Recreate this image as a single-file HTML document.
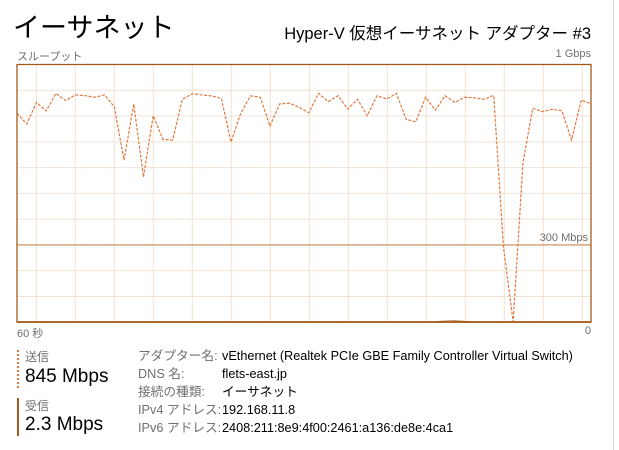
<!DOCTYPE html>
<html><head><meta charset="utf-8">
<style>
body{margin:0;width:619px;height:450px;background:#fff;overflow:hidden;position:relative;font-family:"Liberation Sans","Noto Sans CJK JP",sans-serif;}
.a{position:absolute;white-space:nowrap;}
.g{color:#707070;}
</style></head><body>
<div class="a" style="left:13px;top:6px;font-size:27px;color:#000;">イーサネット</div>
<div class="a" style="right:28px;top:20px;font-size:16.5px;color:#000;">Hyper-V 仮想イーサネット アダプター #3</div>
<div class="a g" style="left:17px;top:48px;font-size:11px;">スループット</div>
<div class="a g" style="right:28px;top:48px;font-size:11px;">1 Gbps</div>
<div class="a g" style="left:17px;top:325px;font-size:11px;">60 秒</div>
<div class="a g" style="right:28px;top:325px;font-size:11px;">0</div>
<div class="a" style="left:613px;top:0;width:1px;height:450px;background:#d9d9d9;"></div>
<svg class="a" style="left:0;top:0" width="619" height="340" id="chart"></svg>

<div class="a" style="left:17px;top:350px;height:38px;border-left:2px dotted #d9773a;"></div>
<div class="a g" style="left:25px;top:348px;font-size:12px;">送信</div>
<div class="a" style="left:25px;top:366px;font-size:19px;">845 Mbps</div>
<div class="a" style="left:17px;top:398px;width:2px;height:38px;background:#a75b1b;"></div>
<div class="a g" style="left:25px;top:397px;font-size:12px;">受信</div>
<div class="a" style="left:25px;top:414px;font-size:19px;">2.3 Mbps</div>

<div style="position:absolute;left:138px;top:347px;font-size:12.7px;line-height:18px;white-space:nowrap;">
<div><span class="g" style="display:inline-block;width:84px">アダプター名:</span>vEthernet (Realtek PCIe GBE Family Controller Virtual Switch)</div>
<div><span class="g" style="display:inline-block;width:84px">DNS 名:</span>flets-east.jp</div>
<div><span class="g" style="display:inline-block;width:84px">接続の種類:</span>イーサネット</div>
<div><span class="g" style="display:inline-block;width:84px">IPv4 アドレス:</span>192.168.11.8</div>
<div><span class="g" style="display:inline-block;width:84px">IPv6 アドレス:</span>2408:211:8e9:4f00:2461:a136:de8e:4ca1</div>
</div>

<script>
const sendMbps=[811,769,853,820,888,860,882,879,873,882,836,629,846,564,801,710,707,865,886,882,878,869,699,811,878,873,761,847,850,834,813,888,856,879,827,865,801,879,866,888,787,778,873,823,879,853,873,871,865,880,293,2,616,830,817,826,821,707,862,847];
const recvMbps=[2,2,2,2,2,2,2,2,2,2,2,2,2,2,2,2,2,2,2,2,2,2,2,2,2,2,2,2,2,2,2,2,2,2,2,2,2,2,2,2,2,2,2,2,4,5,3,2,2,2,2,2,2,2,2,2,2,2,2,2];
const scaleMax=1000;
const markerMbps=300;
const svg=document.getElementById('chart');
const NS='http://www.w3.org/2000/svg';
const L=17,R=591,T=64.5,B=322.3;
const n=sendMbps.length;
function xs(i){return L+(R-L)*i/(n-1);}
function ys(v){return B-(B-T)*v/scaleMax;}
function mk(t,a){const e=document.createElementNS(NS,t);for(const k in a)e.setAttribute(k,a[k]);svg.appendChild(e);return e;}
for(let k=1;k<10;k++){const l=mk('line',{x1:L,x2:R,y1:T+(B-T)*k/10,y2:T+(B-T)*k/10,stroke:'#f2e2d4','stroke-width':1});

}
for(let x=36.3;x<R;x+=39){const l=mk('line',{x1:x,x2:x,y1:T,y2:B,stroke:'#f2e2d4','stroke-width':1});

}
const m=mk('line',{x1:L,x2:R,y1:ys(markerMbps),y2:ys(markerMbps),stroke:'#c8884f','stroke-width':1.2});


const mt=mk('text',{x:R-3,y:ys(markerMbps)-4,'text-anchor':'end','font-size':11,fill:'#707070','font-family':'Liberation Sans, sans-serif'});
mt.textContent=markerMbps+' Mbps';


const rl=mk('polyline',{points:recvMbps.map((v,i)=>xs(i)+','+ys(v)).join(' '),fill:'none',stroke:'#a75b1b','stroke-width':1.2});


const sl=mk('polyline',{points:sendMbps.map((v,i)=>xs(i)+','+ys(v)).join(' '),fill:'none',stroke:'#e07a40','stroke-width':1.2,'stroke-dasharray':'3,1.5'});


const fr=mk('rect',{x:L,y:T,width:R-L,height:B-T,fill:'none',stroke:'#a75b1b','stroke-width':1.3});


</script>
</body></html>
